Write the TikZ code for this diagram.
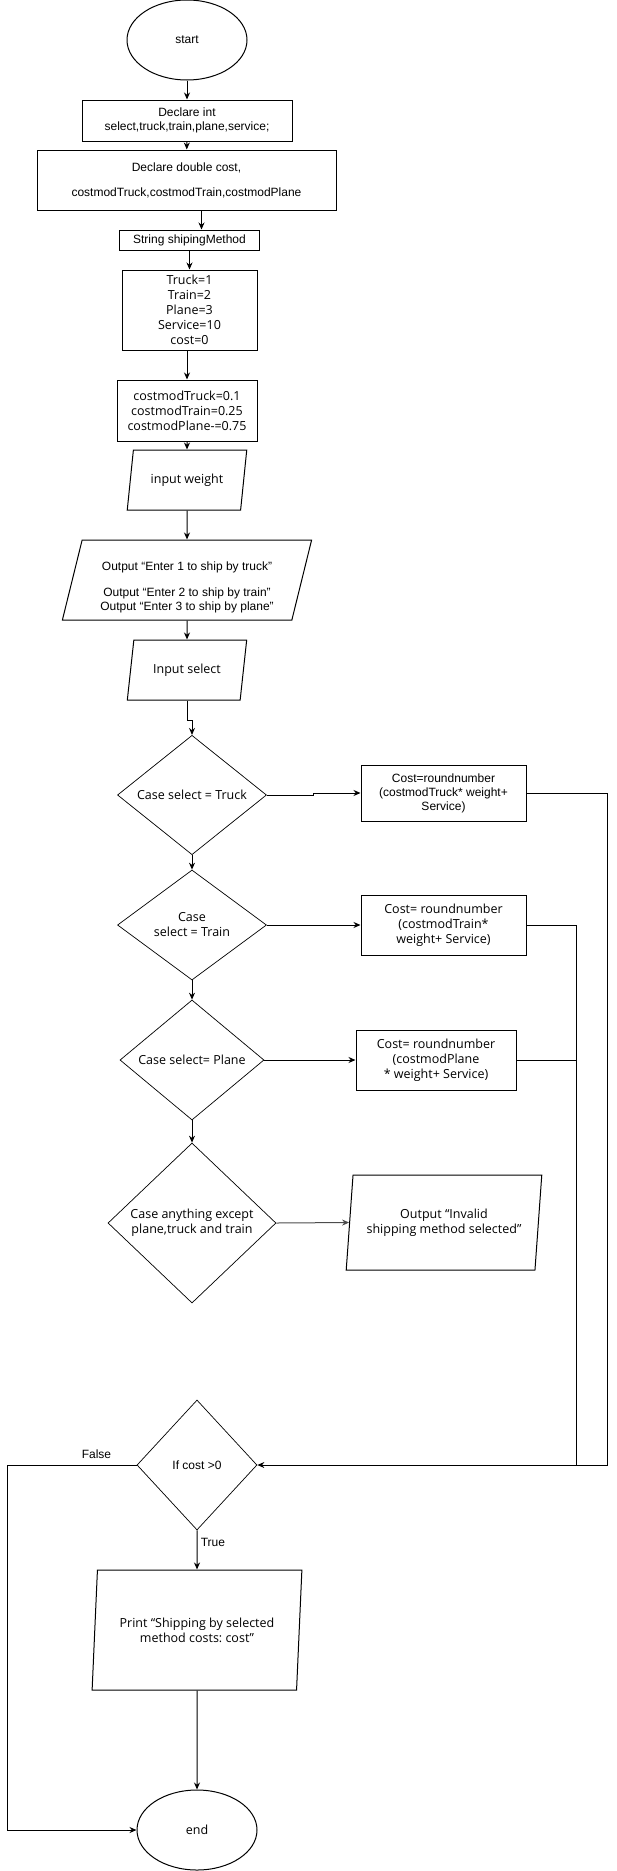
\documentclass[tikz,border=0pt]{standalone}
\usepackage{fontspec}
\setmainfont{Liberation Sans}
\newfontfamily\osans{Open Sans}
\usetikzlibrary{shapes.geometric,arrows.meta}
\frenchspacing

\tikzset{
  ar/.style={font=\fontsize{12}{14}\selectfont},
  os/.style={font=\osans\fontsize{12.5}{15}\selectfont},
  procbox/.style={draw, rectangle, inner sep=0pt, align=center},
  term/.style={draw, ellipse, inner sep=0pt, minimum width=120pt, minimum height=80pt},
  decide/.style={draw, diamond, inner sep=0pt, align=center, line width=0.7pt},
  io/.style={draw, trapezium, trapezium stretches=true, inner sep=0pt, align=center},
  arr/.style={-{Stealth[length=7pt,width=6pt]}},
}

\begin{document}
\begin{tikzpicture}[x=1pt, y=-1pt, line width=1pt]
  \useasboundingbox (0,0) rectangle (616,1871);
  \node[term, ar] (start) at (187,40) {start};
  \node[procbox, ar, minimum width=210pt, minimum height=41pt] (decl) at (187,120.5)
    {Declare int\\select,truck,train,plane,service;};
  \node[procbox, ar, minimum width=299pt, minimum height=60pt] (dbl) at (186.5,180)
    {Declare double cost,\\[11pt]costmodTruck,costmodTrain,costmodPlane};
  \node[procbox, ar, minimum width=140pt, minimum height=20pt] (shp) at (189.5,240) {String shipingMethod};
  \node[procbox, os, minimum width=135pt, minimum height=80pt] (vals) at (189.5,310)
    {Truck=1\\Train=2\\Plane=3\\Service=10\\cost=0};
  \node[procbox, os, minimum width=140pt, minimum height=61pt] (mods) at (187,410.5)
    {costmodTruck=0.1\\costmodTrain=0.25\\costmodPlane-=0.75};
  \node[io, os, minimum width=120pt, minimum height=60pt, trapezium left angle=71.6, trapezium right angle=108.4]
    (inw) at (187,480) {input weight};
  \node[io, ar, minimum width=250pt, minimum height=80pt, trapezium left angle=76, trapezium right angle=104]
    (outp) at (187,580) {\rule{0pt}{23pt}Output “Enter 1 to ship by truck”\\[12pt]Output “Enter 2 to ship by train”\\Output “Enter 3 to ship by plane”};
  \node[io, os, minimum width=120pt, minimum height=60pt, trapezium left angle=71.6, trapezium right angle=108.4]
    (insel) at (187,670) {Input select};

  \node[decide, os, minimum width=149pt, minimum height=110pt] (case1) at (192,795) {Case select = Truck};
  \node[decide, os, minimum width=149pt, minimum height=110pt] (case2) at (192,925) {Case\\select = Train};
  \node[decide, os, minimum width=144pt, minimum height=120pt] (case3) at (192,1060) {Case select= Plane};
  \node[decide, os, minimum width=168pt, minimum height=160pt] (case4) at (192,1223)
    {Case anything except\\plane,truck and train};

  \node[procbox, ar, minimum width=165pt, minimum height=56pt] (truck) at (443.5,793)
    {Cost=roundnumber\\(costmodTruck* weight+\\Service)};
  \node[procbox, os, minimum width=165pt, minimum height=60pt] (train) at (443.5,925)
    {Cost= roundnumber\\(costmodTrain*\\weight+ Service)};
  \node[procbox, os, minimum width=160pt, minimum height=60pt] (plane) at (436,1060)
    {Cost= roundnumber\\(costmodPlane\\* weight+ Service)};
  \node[io, os, minimum width=196pt, minimum height=95pt, trapezium left angle=78.1, trapezium right angle=101.9]
    (invalid) at (444,1222.5) {Output “Invalid\\shipping method selected”};

  \node[decide, ar, minimum width=120pt, minimum height=130pt] (ifc) at (197,1465) {If cost >0};
  \node[io, os, minimum width=210pt, minimum height=120pt, trapezium left angle=80.5, trapezium right angle=99.5]
    (print) at (197,1630) {Print “Shipping by selected\\method costs: cost”};
  \node[term, os] (endn) at (197,1830) {end};

  \coordinate (rt) at (607,1465);
  \coordinate (mid) at (576,1465);
  \coordinate (lf) at (7,1465);

  \draw[arr] (start) -- (decl);
  \draw[arr] (decl) -- (dbl);
  \draw[arr] ([xshift=12pt]shp.north |- dbl.south) -- ([xshift=12pt]shp.north);
  \draw[arr] (shp) -- (vals);
  \draw[arr] (vals.south -| mods.north) -- (mods.north);
  \draw[arr] (mods) -- (inw);
  \draw[arr] (inw) -- (outp);
  \draw[arr] (outp) -- (insel);
  \draw[arr] (insel.south) -- ++(0,20) -| (case1.north);
  \draw[arr] (case1) -- (case2);
  \draw[arr] (case2) -- (case3);
  \draw[arr] (case3) -- (case4);
  \draw[arr] (case1.east) -- ++(47,0) |- (truck.west);
  \draw[arr] (case2.east) -- (train.west);
  \draw[arr] (case3.east) -- (plane.west);
  \draw[arr, black!70] (case4.east) -- (invalid.west);
  \draw[arr] (truck.east) -| (rt) -- (ifc.east);
  \draw (train.east) -| (mid);
  \draw (plane.east) -- (plane.east -| mid);
  \draw[arr] (ifc.west) -- node[ar, above=3pt, pos=0.31] (fl) {False} (lf) |- (endn.west);
  \draw[arr] (ifc.south) -- node[ar, right, pos=0.3] (tl) {True} (print.north);
  \draw[arr] (print) -- (endn);
\end{tikzpicture}
\end{document}
